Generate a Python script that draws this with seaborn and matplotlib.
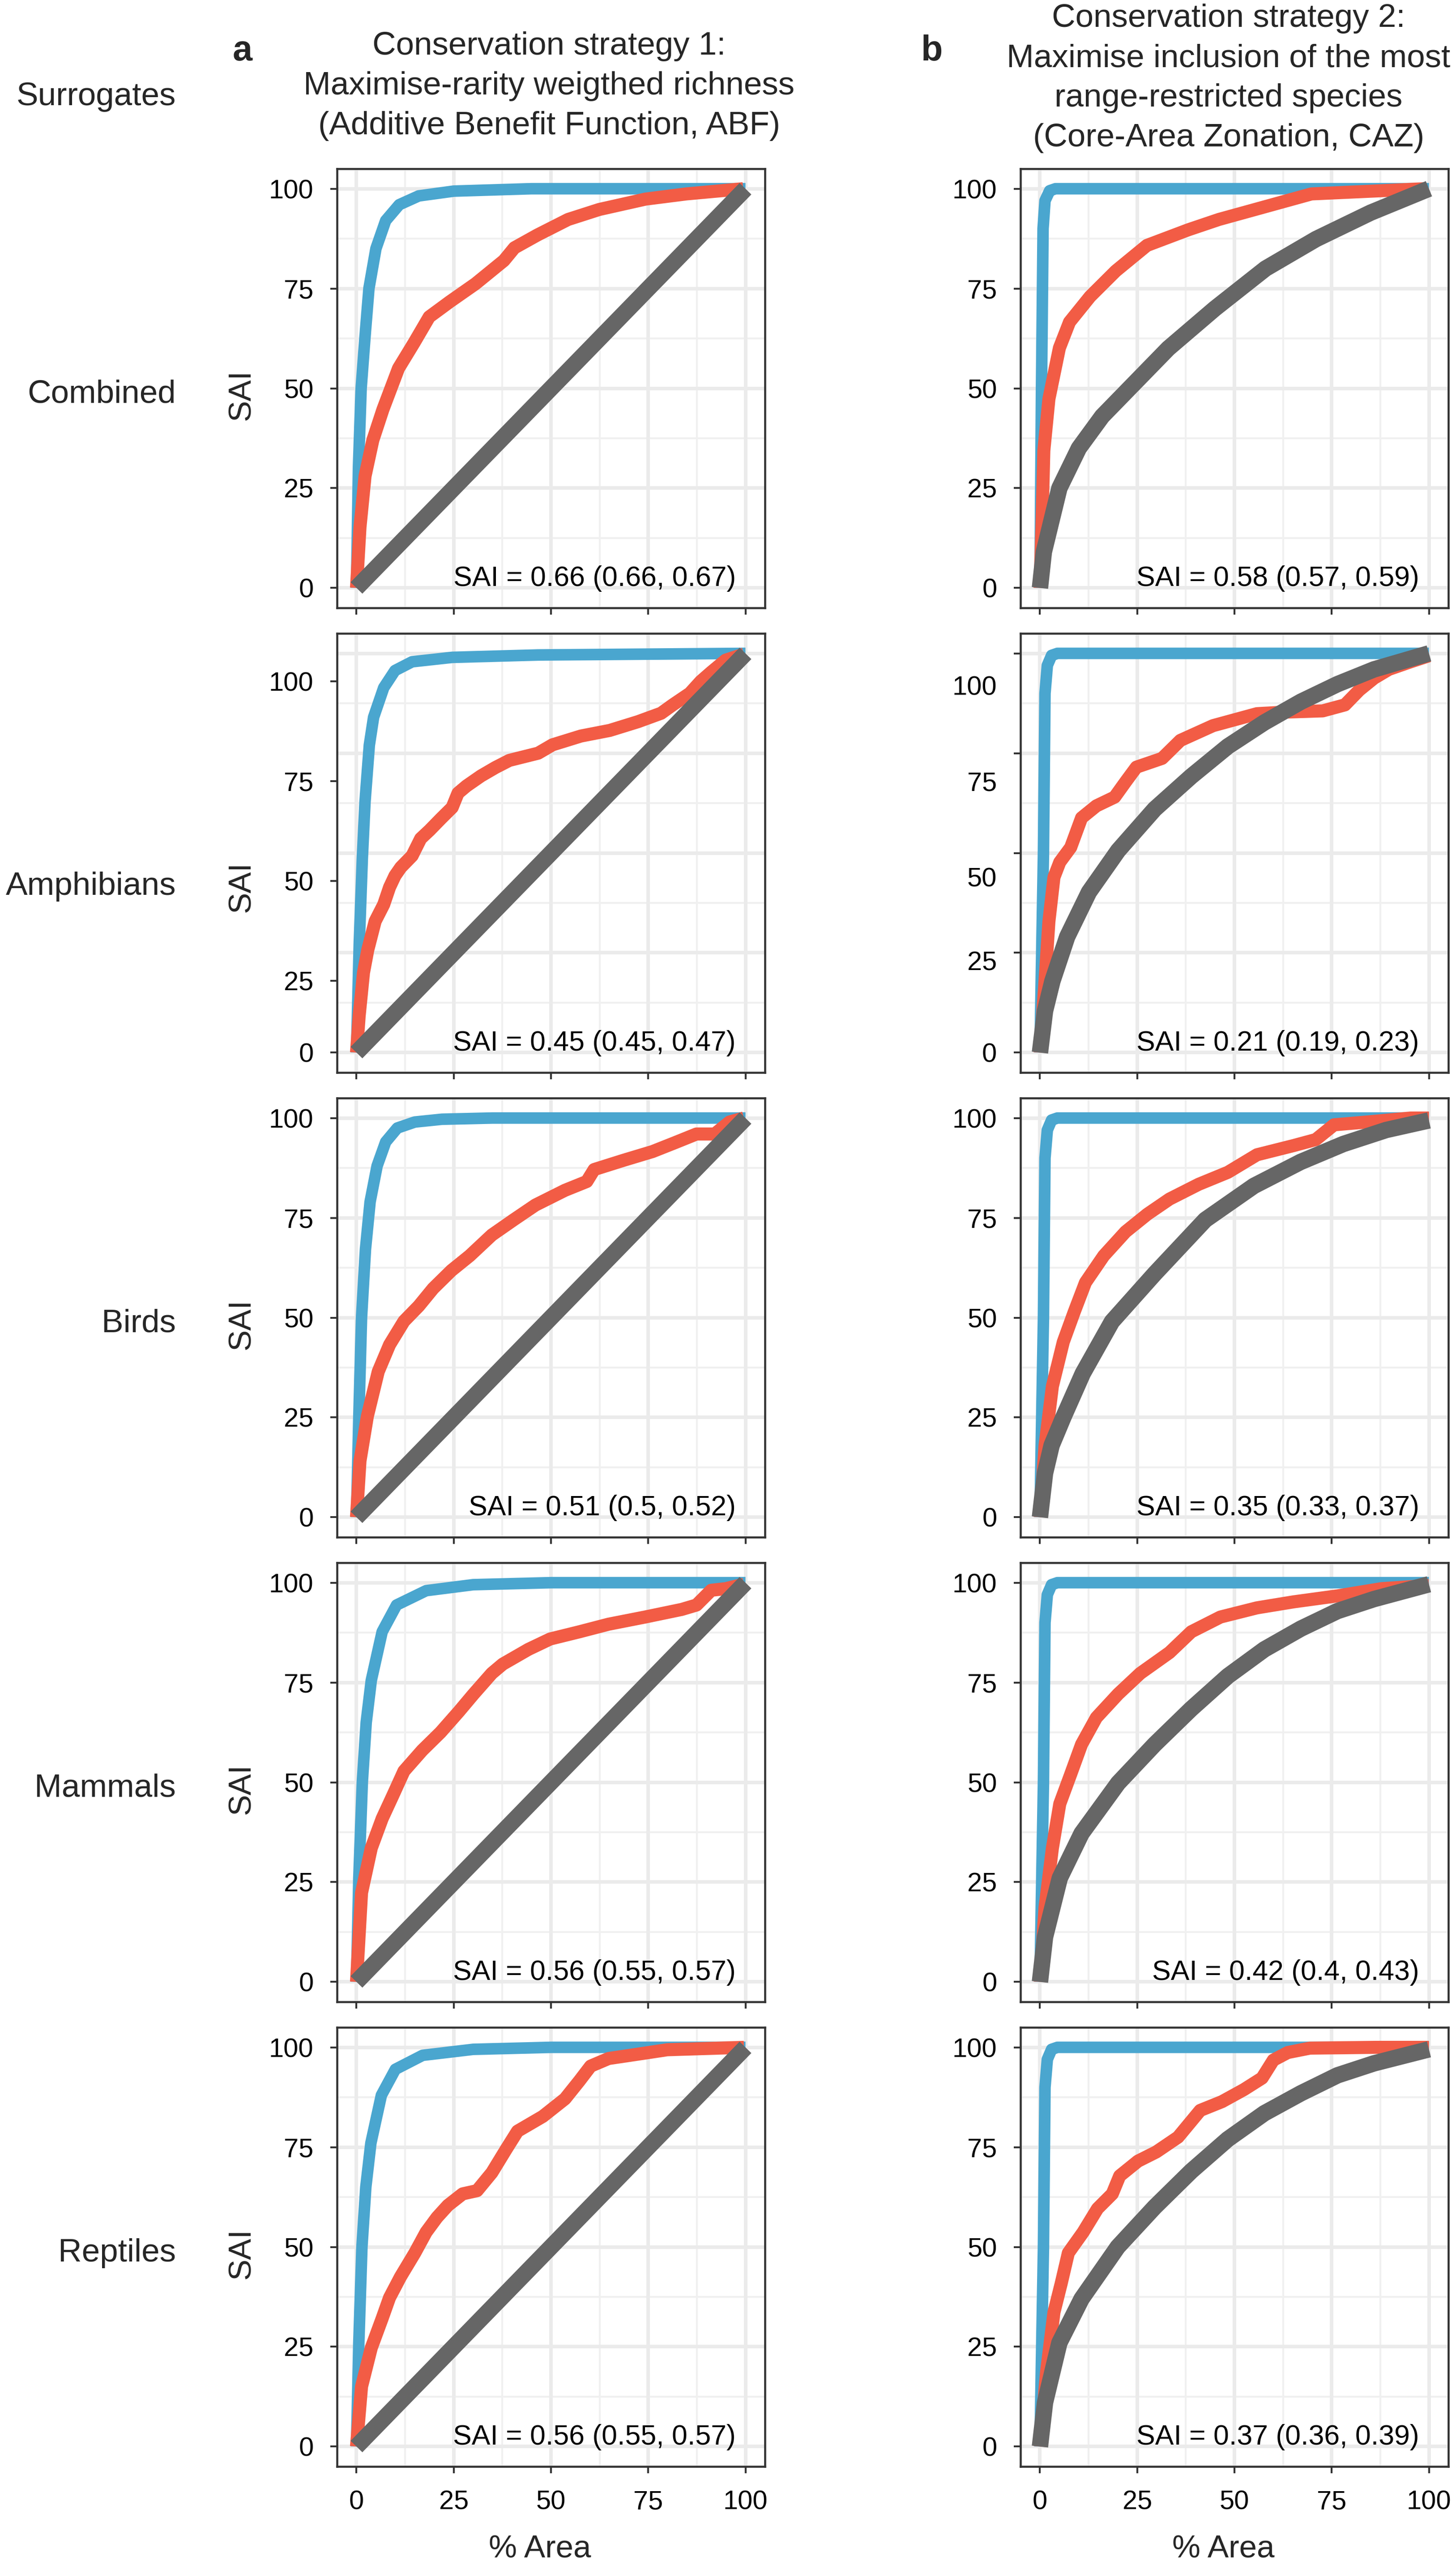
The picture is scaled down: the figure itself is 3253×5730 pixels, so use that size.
import matplotlib
matplotlib.use("Agg")
import pandas as pd
import matplotlib.pyplot as plt
import seaborn as sns

# ---------------- data ----------------
# each curve = (% area, SAI value); optimal = blue, surrogate = red, random = grey
taxa = ['Combined', 'Amphibians', 'Birds', 'Mammals', 'Reptiles']
strategies = ['ABF', 'CAZ']
curve_names = ['optimal', 'surrogate', 'random']

# strategy 1 (ABF)
combined_abf_optimal = ([0, 0.5, 1.2, 2.2, 3.2, 5, 7.5, 11, 16, 25, 45, 100],
                        [0, 30, 50, 63, 75, 85, 92, 96, 98.2, 99.4, 100, 100])
combined_abf_surrogate = ([0, 0.9, 2.2, 4.2, 6.8, 10.8, 14.8, 18.7, 24, 30.6, 37.9, 40.6, 46.5, 54.4, 62.4, 74.3, 84.8, 99.4],
                          [0, 15.2, 28, 37, 44.7, 55, 61.4, 67.9, 71.7, 76.2, 82, 85.2, 88.4, 92.3, 94.8, 97.4, 98.7, 100])
amphibians_abf_optimal = ([0, 0.7, 1.5, 2.2, 3.3, 4.4, 7, 9.9, 14.3, 24.6, 46.7, 100],
                          [0, 27, 48.6, 62.9, 77, 84, 91.4, 95.7, 97.9, 99, 99.6, 100])
amphibians_abf_surrogate = ([0, 0.7, 1.8, 2.9, 4.8, 7.0, 8.5, 9.9, 11.4, 14.3, 16.5, 18.8, 21.7, 24.6, 26.1, 28.3, 32,
                             35.7, 39.3, 46.7, 50.4, 57.7, 65.1, 72.4, 78.3, 81.3, 85.7, 88.5, 91.2, 94.9, 99.6],
                            [0, 9.3, 20, 25.7, 32.9, 37.1, 41.4, 44.3, 46.4, 49.3, 53.6, 55.7, 58.6, 61.4, 65, 66.8, 69.3,
                             71.4, 73.2, 75, 77.1, 79.3, 80.7, 82.9, 85, 87.1, 90, 93, 95.3, 98.3, 99.8])
birds_abf_optimal = ([0, 0.6, 1.3, 2.3, 3.5, 5.3, 7.5, 10.5, 15, 22, 35, 100],
                     [0, 25, 50, 67, 79, 88, 94, 97.5, 99, 99.7, 100, 100])
birds_abf_surrogate = ([0, 0.9, 2.8, 5.6, 8.5, 12.2, 16, 19.7, 24.4, 29.1, 34.8, 40.4, 46, 53.6, 59.2, 61.1, 68.6, 76.1,
                        81.8, 87.4, 92.1, 95.9, 99.6],
                       [0, 14.1, 25.3, 36.5, 43.2, 49.1, 52.9, 57.3, 61.8, 65.5, 70.7, 74.5, 78.2, 81.9, 84.1, 87.1, 89.4,
                        91.6, 93.8, 96, 96, 99, 100])
mammals_abf_optimal = ([0, 0.6, 1.5, 2.5, 3.8, 6.6, 10.3, 17.9, 30, 50, 100],
                       [0, 26, 50, 65, 75.5, 87.7, 94.4, 98, 99.5, 100, 100])
mammals_abf_surrogate = ([0, 1.3, 3.8, 6.6, 9.4, 12.2, 16.9, 21.6, 26.3, 30.1, 34.8, 37.6, 44.2, 49.8, 57.3, 64.8, 74.2,
                          83.6, 87.4, 91.2, 94.9, 99.6],
                         [0, 22.3, 33.5, 40.9, 46.8, 52.8, 58, 62.5, 67.7, 72.1, 77.3, 79.6, 83.3, 85.9, 87.7, 89.6,
                          91.4, 93.3, 94.4, 98.1, 98.5, 99.6])
reptiles_abf_optimal = ([0, 0.6, 1.4, 2.4, 3.7, 6.4, 10, 17, 30, 50, 100],
                        [0, 26, 50, 65, 76, 88, 94.5, 98, 99.5, 100, 100])
reptiles_abf_surrogate = ([0, 1.3, 3.8, 6.6, 8.5, 11.3, 15, 17.9, 20.7, 23.5, 27.3, 31, 34.8, 38.5, 41.4, 47.9, 53.6,
                           57.3, 60.2, 64.8, 72.4, 79.9, 99.6],
                          [0, 15, 24.7, 32.1, 37.3, 42.5, 48.5, 53.7, 57.4, 60.4, 63.3, 64.1, 68.6, 74.5, 79, 82.7, 87.1,
                           91.6, 95.3, 97.2, 98.3, 99.4, 100])
abf_random = ([0, 100], [0, 100])

# strategy 2 (CAZ)
combined_caz_optimal = ([0, 0.4, 0.8, 1.3, 2.5, 4, 100], [0, 50, 90, 97, 99.5, 100, 100])
combined_caz_surrogate = ([0, 0.5, 1.0, 2.3, 5.0, 7.6, 12.9, 19.5, 27.5, 38.1, 46, 55.3, 69.8, 98.9],
                          [0, 15, 34.4, 47.3, 60.1, 66.6, 73, 79.4, 85.8, 89.7, 92.3, 94.8, 98.7, 100])
combined_caz_random = ([0, 1, 5, 10, 16, 23, 33, 45, 58, 71, 85, 100],
                       [0, 9, 25, 35, 43, 50, 60, 70, 80, 87.4, 94, 100])
amphibians_caz_optimal = ([0, 0.9, 1.3, 1.9, 3, 4.5, 100], [0, 50, 90, 97, 99.5, 100, 100])
amphibians_caz_surrogate = ([0, 1.3, 2.3, 3.6, 5.1, 7.9, 10.7, 14.5, 19.2, 22, 24.8, 31.4, 36.1, 44.5, 55.8, 63.3, 72.7,
                             78.4, 82.1, 85.9, 89.7, 95.3, 100],
                            [0, 17.9, 32.8, 43.9, 47.7, 51.4, 58.8, 61.8, 64, 67.8, 71.5, 73.7, 78.2, 81.9, 84.9, 85.3,
                             85.6, 87.1, 90.8, 93.8, 96, 97.9, 99.4])
amphibians_caz_random = ([0, 1.3, 3.2, 7, 12.6, 20.1, 29.5, 38.9, 48.3, 57.7, 67.1, 76.5, 85.9, 100],
                         [0, 10.4, 17.9, 29, 40.2, 50.6, 61, 69.2, 76.7, 82.7, 87.9, 92.3, 96, 100])
birds_caz_optimal = ([0, 0.9, 1.3, 1.9, 3, 4.5, 100], [0, 50, 90, 97, 99.5, 100, 100])
birds_caz_surrogate = ([0, 1.3, 3.2, 6, 8.8, 11.7, 16.4, 22, 27.6, 33.3, 40.8, 48.3, 55.8, 65.2, 70.9, 75.6, 84, 95.3, 100],
                       [0, 17.9, 32.8, 43.9, 51.4, 58.8, 65.5, 71.5, 75.9, 79.7, 83.4, 86.4, 90.8, 93.1, 94.6, 98.3, 99,
                        100, 100])
birds_caz_random = ([0, 1.3, 3, 6, 11, 18.5, 29.5, 42.5, 55, 67, 78, 89, 100],
                    [0, 11, 18, 25, 36, 49, 61, 74.5, 83, 89, 93.5, 97, 99.4])
mammals_caz_optimal = ([0, 0.9, 1.3, 1.9, 3, 4.5, 100], [0, 50, 90, 97, 99.5, 100, 100])
mammals_caz_surrogate = ([0, 1.3, 3.2, 5.1, 7.9, 10.7, 14.5, 20.1, 25.8, 33.3, 38.9, 46.4, 55.8, 65.2, 76.5, 87.8, 100],
                         [0, 18.6, 33.5, 44.6, 52, 59.5, 66.2, 72.1, 77.3, 82.5, 87.7, 91.4, 93.7, 95.2, 96.7, 98.5, 99.3])
mammals_caz_random = ([0, 1.3, 5.1, 10.7, 20.1, 29.5, 38.9, 48.3, 57.7, 67.1, 76.5, 85.9, 100],
                      [0, 11.2, 26, 37.2, 49.8, 59.5, 68.4, 76.6, 83.3, 88.5, 92.9, 95.9, 99.6])
reptiles_caz_optimal = ([0, 0.9, 1.3, 1.9, 3, 4.5, 100], [0, 50, 90, 97, 99.5, 100, 100])
reptiles_caz_surrogate = ([0, 1.7, 3.6, 5.5, 7.3, 11.1, 14.8, 18.6, 20.5, 25.2, 29.9, 35.5, 41.2, 46.8, 52.4, 57.1, 60,
                           63.7, 69.4, 86.3, 100],
                          [0, 18.7, 33.6, 41, 48.5, 53.7, 59.6, 63.3, 67.8, 71.5, 73.8, 77.5, 84.2, 86.4, 89.4, 92.3,
                           96.8, 98.7, 99.8, 100, 100])
reptiles_caz_random = ([0, 1.3, 5, 10.7, 20, 29.5, 38.9, 48.3, 57.7, 67.1, 76.5, 85.9, 100],
                       [0, 11, 26, 37, 50, 60, 69, 77, 83.5, 88.5, 93, 96, 99.5])

# SAI estimate and interval per panel
sai_abf = [0.66, 0.45, 0.51, 0.56, 0.56]
sai_abf_lo = [0.66, 0.45, 0.5, 0.55, 0.55]
sai_abf_hi = [0.67, 0.47, 0.52, 0.57, 0.57]
sai_caz = [0.58, 0.21, 0.35, 0.42, 0.37]
sai_caz_lo = [0.57, 0.19, 0.33, 0.4, 0.36]
sai_caz_hi = [0.59, 0.23, 0.37, 0.43, 0.39]

breaks = [0, 25, 50, 75, 100]
minor_breaks = [12.5, 37.5, 62.5, 87.5]
break_labels = ['0', '25', '50', '75', '100']
# the Amphibians row in the reference has its y labels drawn off the grid
amph_abf_tick_pos = [0, 18, 43, 68, 93]
amph_caz_label_pos = [0, 23, 44, 68, 92]

titles = {
    'ABF': ['Conservation strategy 1:', 'Maximise-rarity weigthed richness',
            '(Additive Benefit Function, ABF)'],
    'CAZ': ['Conservation strategy 2:', 'Maximise inclusion of the most',
            'range-restricted species', '(Core-Area Zonation, CAZ)'],
}

panels = {
    ('Combined', 'ABF'): (combined_abf_optimal, combined_abf_surrogate, abf_random),
    ('Amphibians', 'ABF'): (amphibians_abf_optimal, amphibians_abf_surrogate, abf_random),
    ('Birds', 'ABF'): (birds_abf_optimal, birds_abf_surrogate, abf_random),
    ('Mammals', 'ABF'): (mammals_abf_optimal, mammals_abf_surrogate, abf_random),
    ('Reptiles', 'ABF'): (reptiles_abf_optimal, reptiles_abf_surrogate, abf_random),
    ('Combined', 'CAZ'): (combined_caz_optimal, combined_caz_surrogate, combined_caz_random),
    ('Amphibians', 'CAZ'): (amphibians_caz_optimal, amphibians_caz_surrogate, amphibians_caz_random),
    ('Birds', 'CAZ'): (birds_caz_optimal, birds_caz_surrogate, birds_caz_random),
    ('Mammals', 'CAZ'): (mammals_caz_optimal, mammals_caz_surrogate, mammals_caz_random),
    ('Reptiles', 'CAZ'): (reptiles_caz_optimal, reptiles_caz_surrogate, reptiles_caz_random),
}

records = []
for (taxon, strat), curves in panels.items():
    for name, (xs, ys) in zip(curve_names, curves):
        for i, (x, y) in enumerate(zip(xs, ys)):
            records.append(dict(taxon=taxon, strategy=strat, curve=name, step=i, area=x, sai=y))
df = pd.DataFrame(records)

# ---------------- style ----------------
sns.set_theme(style="ticks")
plt.rcParams['font.family'] = ['Liberation Sans', 'DejaVu Sans']

colors = {'optimal': '#4AA6CF', 'surrogate': '#F25C45', 'random': '#666666'}
widths = {'optimal': 6.2, 'surrogate': 7.0, 'random': 8.8}
major_grid = '#EBEBEB'
minor_grid = '#F0F0F0'
border = '#333333'

W, H, DPI = 3254, 5730, 300
col_left = {'ABF': 753, 'CAZ': 2280}
panel_w, panel_h = 956, 981
row_top, row_step = 377, 1038
label_shift = [14, 75, 14, 14, 14]


def fx(px):
    return px / W


def fy(px):
    return 1 - px / H


fig = plt.figure(figsize=(W / DPI, H / DPI), dpi=DPI)

for r, taxon in enumerate(taxa):
    top = row_top + r * row_step
    for c, strat in enumerate(strategies):
        ax = fig.add_axes([fx(col_left[strat]), fy(top + panel_h), fx(panel_w), panel_h / H])
        ax.set_xlim(-5, 105)
        ax.set_ylim(-5, 105)

        for v in minor_breaks:
            ax.axhline(v, color=minor_grid, lw=1.0, zorder=0)
            ax.axvline(v, color=minor_grid, lw=1.0, zorder=0)
        for v in breaks:
            ax.axhline(v, color=major_grid, lw=1.9, zorder=0.5)
            ax.axvline(v, color=major_grid, lw=1.9, zorder=0.5)

        sub = df[(df.taxon == taxon) & (df.strategy == strat)]
        for k, name in enumerate(curve_names):
            sns.lineplot(data=sub[sub.curve == name], x='area', y='sai', color=colors[name],
                         linewidth=widths[name], estimator=None, sort=False, legend=False,
                         solid_capstyle='butt', zorder=2 + k, ax=ax)
        ax.set_xlabel('')
        ax.set_ylabel('')

        for s in ax.spines.values():
            s.set_visible(True)
            s.set_color(border)
            s.set_linewidth(1.1)
            s.set_zorder(10)

        ax.set_xticks(breaks, labels=break_labels)
        if taxon == 'Amphibians' and strat == 'ABF':
            ax.set_yticks(amph_abf_tick_pos, labels=break_labels)
        elif taxon == 'Amphibians':
            ax.set_yticks(breaks, labels=[''] * len(breaks))
            for p, lab in zip(amph_caz_label_pos, break_labels):
                ax.text(-53 / panel_w, p, lab, transform=ax.get_yaxis_transform(), ha='right',
                        va='center_baseline', fontsize=14.3, color='black')
        else:
            ax.set_yticks(breaks, labels=break_labels)
        ax.tick_params(axis='both', length=3.6, width=1.0, color=border, pad=9,
                       labelsize=14.3, labelcolor='black', left=True, bottom=True)
        ax.tick_params(axis='x', labelbottom=(r == len(taxa) - 1))

        if strat == 'ABF':
            est, lo, hi = sai_abf[r], sai_abf_lo[r], sai_abf_hi[r]
        else:
            est, lo, hi = sai_caz[r], sai_caz_lo[r], sai_caz_hi[r]
        ax.text(97.5, 0.5, f"SAI = {est:g} ({lo:g}, {hi:g})", ha='right', va='baseline',
                fontsize=15, color='black', zorder=20)

    mid = top + panel_h / 2 + label_shift[r]
    fig.text(fx(393), fy(mid), taxon, ha='right', va='center', fontsize=17.5)
    fig.text(fx(540), fy(mid), 'SAI', ha='center', va='center', rotation=90, fontsize=17)

# headers
fig.text(fx(393), fy(217), 'Surrogates', ha='right', va='center', fontsize=17.5)
fig.text(fx(542), fy(135), 'a', ha='center', va='baseline', fontsize=19, fontweight='bold')
fig.text(fx(2082), fy(135), 'b', ha='center', va='baseline', fontsize=19, fontweight='bold')
title_x = {'ABF': 1227, 'CAZ': 2745}
title_base = {'ABF': 122, 'CAZ': 60}
for strat in strategies:
    for i, line in enumerate(titles[strat]):
        fig.text(fx(title_x[strat]), fy(title_base[strat] + 89 * i), line, ha='center',
                 va='baseline', fontsize=17.5)

# x axis titles
for strat in strategies:
    fig.text(fx(col_left[strat] + panel_w / 2 - 25), fy(5696), '% Area', ha='center', va='center', fontsize=17)

fig.savefig('out.png', dpi=DPI, facecolor='white')
